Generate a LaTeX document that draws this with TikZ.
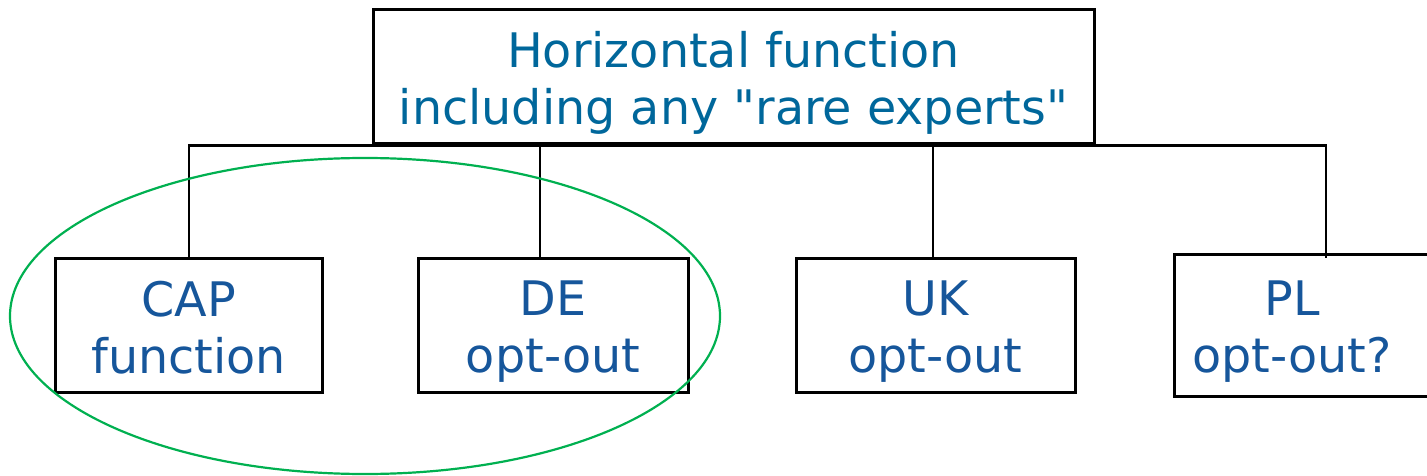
\documentclass[tikz,border=0pt]{standalone}
\usepackage{fontspec}
\setmainfont{DejaVu Sans}
\usetikzlibrary{shapes.geometric}
\definecolor{topblue}{RGB}{0,103,155}
\definecolor{botblue}{RGB}{22,86,155}
\definecolor{grp}{RGB}{0,176,80}
\newcommand\lstr{\rule[-9pt]{0pt}{57pt}}
\begin{document}
\begin{tikzpicture}[x=1pt,y=-1pt,
  box/.style={draw=black,line width=3pt,rectangle,inner sep=0pt,align=center,
    font=\fontsize{47.6}{57}\selectfont},
  conn/.style={draw=black,line width=2.2pt},
  grpring/.style={draw=grp,line width=2.2pt}]
\useasboundingbox (0,0) rectangle (1427,476);
\clip (0,0) rectangle (1427,476);
\node[box,text=topblue,minimum width=721pt,minimum height=134pt] (top) at (733.5,77) {\lstr Horizontal function\\\lstr including any \textquotedbl rare experts\textquotedbl};
\node[box,text=botblue,minimum width=267pt,minimum height=134pt] (cap) at (188.5,325) {\lstr CAP\\\lstr function};
\node[box,text=botblue,minimum width=270pt,minimum height=134pt] (de) at (553,325) {\lstr DE\\\lstr opt-out};
\node[box,text=botblue,minimum width=279pt,minimum height=134pt] (uk) at (935.5,325) {\lstr UK\\\lstr opt-out};
\node[box,text=botblue,minimum width=276pt,minimum height=142pt] (pl) at (1312,325) {\hspace*{-40pt}\lstr PL\\\hspace*{-40pt}\lstr opt-out?};
\coordinate (capj) at (189,258);
\coordinate (dej) at (540,258);
\coordinate (ukj) at (933,258);
\coordinate (plj) at (1326,258);
\draw[conn] (capj) -- (capj |- top.south) -- (plj |- top.south) -- (plj);
\draw[conn] (dej) -- (dej |- top.south);
\draw[conn] (ukj) -- (ukj |- top.south);
\node[grpring,ellipse,minimum width=710pt,minimum height=316pt,inner sep=0pt] (ring) at (365,316) {};
\end{tikzpicture}
\end{document}
